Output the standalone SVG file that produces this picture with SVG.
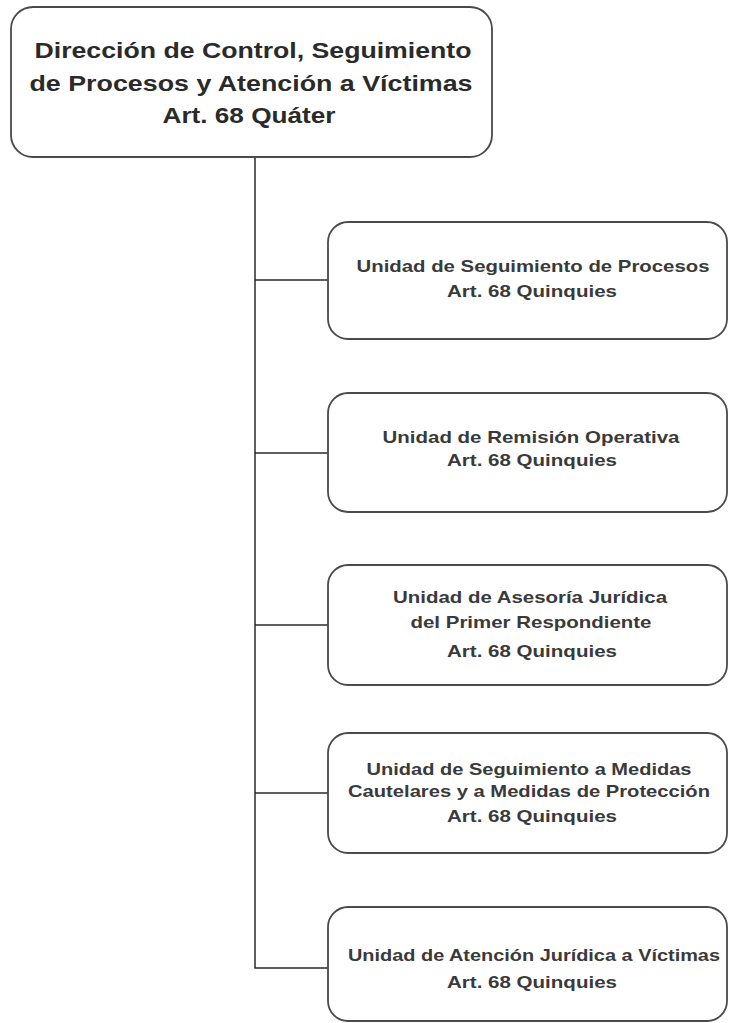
<svg xmlns="http://www.w3.org/2000/svg" width="729" height="1023" viewBox="0 0 729 1023">
<style>
.box{fill:#fff;stroke:#4a4a4a;stroke-width:1.8}
.t1{font-family:"Liberation Sans",Arial,sans-serif;font-weight:bold;font-size:22px;fill:#2a2a2a;text-anchor:middle}
.t2{font-family:"Liberation Sans",Arial,sans-serif;font-weight:bold;font-size:17px;fill:#3a3a3a;text-anchor:middle}
.ln{fill:none;stroke:#2a2a2a;stroke-width:1.5}
</style>
<rect width="729" height="1023" fill="#fff"/>
<g id="connectors">
<path class="ln" d="M255 157 V968 H328" stroke-width="2"/>
<path class="ln" d="M255 280 H328"/>
<path class="ln" d="M255 453 H328"/>
<path class="ln" d="M255 625 H328"/>
<path class="ln" d="M255 793 H328"/>
</g>
<g id="n0">
<rect class="box" x="11" y="7" width="481" height="150" rx="22"/>
<text class="t1" x="253" y="58" textLength="437" lengthAdjust="spacingAndGlyphs">Dirección de Control, Seguimiento</text>
<text class="t1" x="251" y="91" textLength="443" lengthAdjust="spacingAndGlyphs">de Procesos y Atención a Víctimas</text>
<text class="t1" x="249" y="123" textLength="173" lengthAdjust="spacingAndGlyphs">Art. 68 Quáter</text>
</g>
<g id="n1">
<rect class="box" x="328" y="222" width="399" height="117" rx="20"/>
<text class="t2" x="533" y="272" textLength="353" lengthAdjust="spacingAndGlyphs">Unidad de Seguimiento de Procesos</text>
<text class="t2" x="532" y="297" textLength="170" lengthAdjust="spacingAndGlyphs">Art. 68 Quinquies</text>
</g>
<g id="n2">
<rect class="box" x="328" y="393" width="399" height="119" rx="20"/>
<text class="t2" x="531" y="443" textLength="297" lengthAdjust="spacingAndGlyphs">Unidad de Remisión Operativa</text>
<text class="t2" x="532" y="466" textLength="170" lengthAdjust="spacingAndGlyphs">Art. 68 Quinquies</text>
</g>
<g id="n3">
<rect class="box" x="328" y="565" width="399" height="120" rx="20"/>
<text class="t2" x="530" y="603" textLength="274" lengthAdjust="spacingAndGlyphs">Unidad de Asesoría Jurídica</text>
<text class="t2" x="531" y="628" textLength="241" lengthAdjust="spacingAndGlyphs">del Primer Respondiente</text>
<text class="t2" x="532" y="657" textLength="170" lengthAdjust="spacingAndGlyphs">Art. 68 Quinquies</text>
</g>
<g id="n4">
<rect class="box" x="328" y="733" width="399" height="120" rx="20"/>
<text class="t2" x="529" y="775" textLength="325" lengthAdjust="spacingAndGlyphs">Unidad de Seguimiento a Medidas</text>
<text class="t2" x="529" y="797" textLength="362" lengthAdjust="spacingAndGlyphs">Cautelares y a Medidas de Protección</text>
<text class="t2" x="532" y="822" textLength="170" lengthAdjust="spacingAndGlyphs">Art. 68 Quinquies</text>
</g>
<g id="n5">
<rect class="box" x="328" y="907" width="399" height="114" rx="20"/>
<text class="t2" x="534" y="961" textLength="372" lengthAdjust="spacingAndGlyphs">Unidad de Atención Jurídica a Víctimas</text>
<text class="t2" x="532" y="988" textLength="170" lengthAdjust="spacingAndGlyphs">Art. 68 Quinquies</text>
</g>
</svg>
